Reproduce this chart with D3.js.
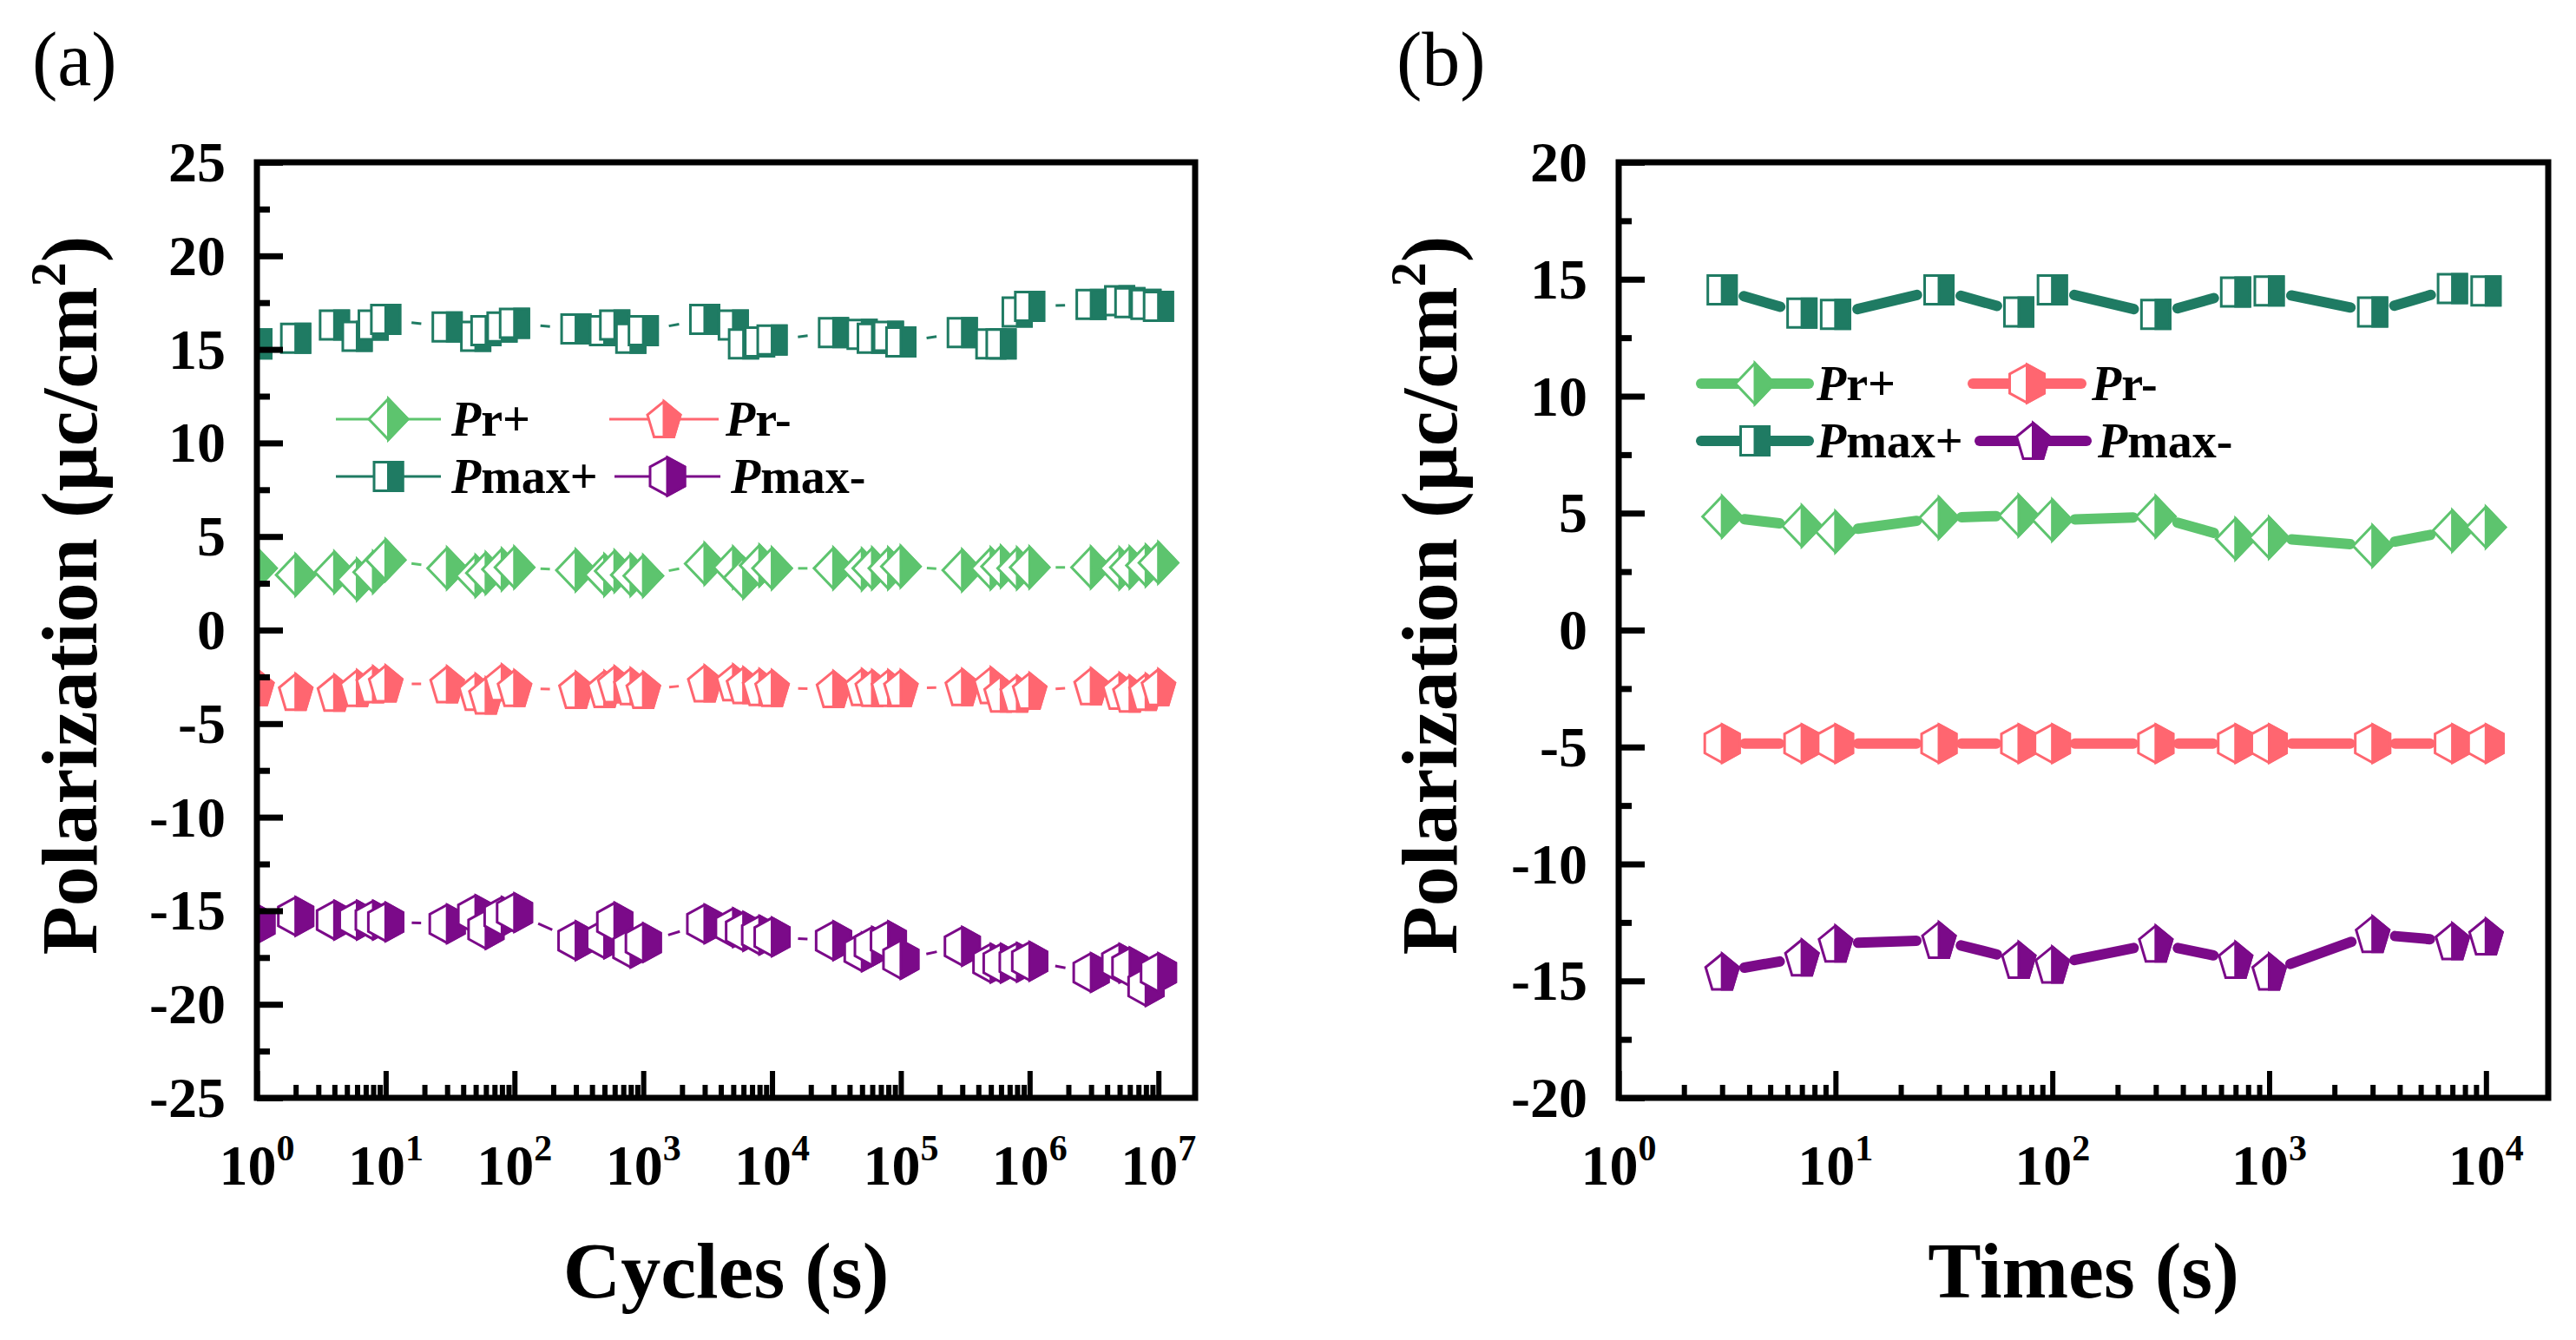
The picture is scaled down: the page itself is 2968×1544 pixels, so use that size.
<!DOCTYPE html>
<html><head><meta charset="utf-8">
<script src="https://cdn.jsdelivr.net/npm/d3@7"></script>
<style>html,body{margin:0;padding:0;background:#fff}svg{display:block}</style>
</head><body>
<svg id="c" width="2968" height="1544"></svg>
<script>
// ---------- DATA ----------
const cyclesX = [1,2,4,6,8,10, 30,50,60,80,100, 300,500,600,800,1e3, 3e3,5e3,6e3,8e3,1e4, 3e4,5e4,6e4,8e4,1e5, 3e5,5e5,6e5,8e5,1e6, 3e6,5e6,6e6,8e6,1e7];
const cyclesPrPlus = [3.3,2.95,3.1,2.7,3.1,3.75, 3.3,2.9,3.05,3.25,3.35, 3.2,2.95,3.15,2.95,2.9, 3.55,3.35,2.8,3.45,3.3, 3.3,3.25,3.3,3.3,3.4, 3.2,3.3,3.4,3.3,3.35, 3.35,3.3,3.35,3.45,3.6];
const cyclesPrMinus = [-3.05,-3.3,-3.35,-3.1,-2.9,-2.85, -2.9,-3.3,-3.5,-2.8,-3.1, -3.2,-3.15,-2.9,-3.0,-3.2, -2.85,-2.8,-2.95,-3.05,-3.1, -3.15,-3.05,-3.1,-3.1,-3.1, -3.05,-2.95,-3.4,-3.4,-3.25, -3.0,-3.25,-3.4,-3.3,-3.05];
const cyclesPmaxPlus = [15.3,15.6,16.3,15.7,16.3,16.6, 16.2,15.7,16.0,16.2,16.4, 16.1,16.0,16.3,15.6,16.0, 16.6,16.3,15.3,15.4,15.5, 15.9,15.8,15.6,15.7,15.4, 15.9,15.3,15.3,17.0,17.3, 17.4,17.6,17.5,17.4,17.3];
const cyclesPmaxMinus = [-15.7,-15.3,-15.5,-15.5,-15.5,-15.6, -15.7,-15.2,-16.0,-15.3,-15.1, -16.6,-16.5,-15.6,-17.0,-16.7, -15.7,-15.9,-16.1,-16.3,-16.4, -16.6,-17.2,-16.9,-16.6,-17.6, -16.9,-17.8,-17.8,-17.75,-17.7, -18.3,-17.8,-18.0,-19.05,-18.3];

const timesX = [3,7,10,30,70,100,300,700,1000,3000,7000,10000];
const timesPrPlus = [4.85,4.45,4.2,4.8,4.9,4.7,4.85,3.9,3.95,3.6,4.25,4.4];
const timesPrMinus = [-4.85,-4.85,-4.85,-4.85,-4.85,-4.85,-4.85,-4.85,-4.85,-4.85,-4.85,-4.85];
const timesPmaxPlus = [14.55,13.55,13.5,14.55,13.6,14.55,13.5,14.45,14.5,13.6,14.6,14.5];
const timesPmaxMinus = [-14.6,-14.0,-13.4,-13.25,-14.1,-14.3,-13.4,-14.1,-14.6,-13.0,-13.3,-13.1];

const cyclesTickExps = [0,1,2,3,4,5,6,7];
const timesTickExps = [0,1,2,3,4];
const cyclesYTicks = [-25,-20,-15,-10,-5,0,5,10,15,20,25];
const timesYTicks = [-20,-15,-10,-5,0,5,10,15,20];
const seriesNames = ["Pr+","Pr-","Pmax+","Pmax-"];
const panelLabels = ["(a)","(b)"];
const xTitles = ["Cycles (s)","Times (s)"];
const yTitle = "Polarization (μc/cm";

// ---------- STYLE ----------
const FONT = "'Liberation Serif','Times New Roman',serif";
const COL = ["#5dc46e","#ff6670","#1f7b63","#7b0a89"];
const svg = d3.select("#c");

function shapePts(shape){
  if(shape==="diamond"){const w=45,h=47;return{full:[[0,-h/2],[w/2,0],[0,h/2],[-w/2,0]],half:[[0,-h/2],[w/2,0],[0,h/2]]};}
  if(shape==="square"){const w=33,h=33;return{full:[[-w/2,-h/2],[w/2,-h/2],[w/2,h/2],[-w/2,h/2]],half:[[0,-h/2],[w/2,-h/2],[w/2,h/2],[0,h/2]]};}
  if(shape==="pentagon"){const w=38,h=41,sy=-h/2+0.38*h,bx=0.3*w;return{full:[[0,-h/2],[w/2,sy],[bx,h/2],[-bx,h/2],[-w/2,sy]],half:[[0,-h/2],[w/2,sy],[bx,h/2],[0,h/2]]};}
  const w=40,h=44;return{full:[[0,-h/2],[w/2,-h/4],[w/2,h/4],[0,h/2],[-w/2,h/4],[-w/2,-h/4]],half:[[0,-h/2],[w/2,-h/4],[w/2,h/4],[0,h/2]]};
}
function drawMarker(g,shape,cx,cy,color){
  const p=shapePts(shape);
  const s=pts=>pts.map(d=>(cx+d[0])+","+(cy+d[1])).join(" ");
  g.append("polygon").attr("points",s(p.full)).attr("fill","#fff").attr("stroke",color).attr("stroke-width",3);
  g.append("polygon").attr("points",s(p.half)).attr("fill",color).attr("stroke",color).attr("stroke-width",3);
}

function panel(cfg){
  const {x,y,xs,series,shapes,tickExps,yTicks,id,lineW,cap,gap,legend,xTitle,yTitleX,label,labelX,legendW} = cfg;
  const [x0,x1]=x.range(), [yb,yt]=y.range();
  const g = svg.append("g");
  svg.append("clipPath").attr("id","clip"+id).append("rect")
    .attr("x",x0).attr("y",yt).attr("width",x1-x0).attr("height",yb-yt);

  // data
  const dg = g.append("g").attr("clip-path",`url(#clip${id})`);
  series.forEach((vals,si)=>{
    const pts = xs.map((xv,i)=>[x(xv), y(vals[i])]);
    d3.pairs(pts).forEach(([p,q])=>{
      const dx=q[0]-p[0], dy=q[1]-p[1], d=Math.hypot(dx,dy);
      if(d>2*gap){
        const ux=dx/d, uy=dy/d;
        dg.append("line").attr("x1",p[0]+ux*gap).attr("y1",p[1]+uy*gap)
          .attr("x2",q[0]-ux*gap).attr("y2",q[1]-uy*gap)
          .attr("stroke",COL[si]).attr("stroke-width",lineW).attr("stroke-linecap",cap);
      }
    });
    pts.forEach(p=>drawMarker(dg,shapes[si],p[0],p[1],COL[si]));
  });

  // ticks
  const yMinor=[]; yTicks.forEach(v=>{const m=v-2.5; if(m>y.domain()[0]) yMinor.push(m);});
  const ax=(a,vals,size)=>a.tickValues(vals).tickSize(size).tickFormat("");
  g.append("g").attr("transform",`translate(${x0},0)`).call(ax(d3.axisLeft(y),yTicks,-30))
    .call(s=>{s.select(".domain").remove();s.selectAll("line").attr("stroke","#000").attr("stroke-width",7);});
  g.append("g").attr("transform",`translate(${x0},0)`).call(ax(d3.axisLeft(y),yMinor,-15))
    .call(s=>{s.select(".domain").remove();s.selectAll("line").attr("stroke","#000").attr("stroke-width",7);});
  const xMajor = tickExps.map(k=>Math.pow(10,k));
  const xMinor=[]; tickExps.forEach(k=>{for(let m=2;m<=9;m++){const v=m*Math.pow(10,k); if(v<x.domain()[1]) xMinor.push(v);}});
  g.append("g").attr("transform",`translate(0,${yb})`).call(ax(d3.axisBottom(x),xMajor,-31))
    .call(s=>{s.select(".domain").remove();s.selectAll("line").attr("stroke","#000").attr("stroke-width",6);});
  g.append("g").attr("transform",`translate(0,${yb})`).call(ax(d3.axisBottom(x),xMinor,-15))
    .call(s=>{s.select(".domain").remove();s.selectAll("line").attr("stroke","#000").attr("stroke-width",6);});

  // box
  g.append("rect").attr("x",x0).attr("y",yt).attr("width",x1-x0).attr("height",yb-yt)
    .attr("fill","none").attr("stroke","#000").attr("stroke-width",7);

  // tick labels
  yTicks.forEach(v=>{
    g.append("text").attr("x",x0-36).attr("y",y(v)+22).attr("text-anchor","end")
      .attr("font-family",FONT).attr("font-weight","bold").attr("font-size",66).text(v);
  });
  tickExps.forEach(k=>{
    const t=g.append("text").attr("x",x(Math.pow(10,k))).attr("y",1365).attr("text-anchor","middle")
      .attr("font-family",FONT).attr("font-weight","bold").attr("font-size",66);
    t.append("tspan").text("10");
    t.append("tspan").attr("font-size",42).attr("dy",-28).text(k);
  });

  // axis titles
  g.append("text").attr("x",(x0+x1)/2).attr("y",1495).attr("text-anchor","middle")
    .attr("font-family",FONT).attr("font-weight","bold").attr("font-size",92).text(xTitle);
  const yt2=g.append("text").attr("transform",`translate(${yTitleX},686) rotate(-90)`).attr("text-anchor","middle")
    .attr("font-family",FONT).attr("font-weight","bold").attr("font-size",92);
  yt2.append("tspan").text(yTitle);
  yt2.append("tspan").attr("font-size",56).attr("dy",-36).text("2");
  yt2.append("tspan").attr("dy",36).text(")");

  // panel label
  svg.append("text").attr("x",labelX).attr("y",98).attr("font-family",FONT).attr("font-size",88).text(label);

  // legend
  legend.forEach((L,si)=>{
    g.append("line").attr("x1",L.x1).attr("x2",L.x2).attr("y1",L.y).attr("y2",L.y)
      .attr("stroke",COL[si]).attr("stroke-width",legendW).attr("stroke-linecap",cap);
    drawMarker(g,shapes[si],(L.x1+L.x2)/2,L.y,COL[si]);
    const t=g.append("text").attr("x",L.tx).attr("y",L.y+19).attr("font-family",FONT)
      .attr("font-weight","bold").attr("font-size",56);
    t.append("tspan").attr("font-style","italic").text(seriesNames[si].slice(0,1));
    t.append("tspan").text(seriesNames[si].slice(1));
  });
}

// Panel (a)
panel({
  id:"a",
  x:d3.scaleLog().domain([1,Math.pow(10,7.285)]).range([296,1377]),
  y:d3.scaleLinear().domain([-25,25]).range([1265,187]),
  xs:cyclesX,
  series:[cyclesPrPlus,cyclesPrMinus,cyclesPmaxPlus,cyclesPmaxMinus],
  shapes:["diamond","pentagon","square","hexagon"],
  tickExps:cyclesTickExps, yTicks:cyclesYTicks,
  lineW:3, cap:"butt", gap:30, legendW:3,
  legend:[{x1:387,x2:508,y:483,tx:520},{x1:702,x2:828,y:483,tx:836},
          {x1:387,x2:508,y:549,tx:520},{x1:708,x2:830,y:549,tx:842}],
  xTitle:xTitles[0], yTitleX:111, label:panelLabels[0], labelX:37
});

// Panel (b)
panel({
  id:"b",
  x:d3.scaleLog().domain([1,Math.pow(10,4.287)]).range([1865,2936]),
  y:d3.scaleLinear().domain([-20,20]).range([1265,187]),
  xs:timesX,
  series:[timesPrPlus,timesPrMinus,timesPmaxPlus,timesPmaxMinus],
  shapes:["diamond","hexagon","square","pentagon"],
  tickExps:timesTickExps, yTicks:timesYTicks,
  lineW:12, cap:"round", gap:26, legendW:12,
  legend:[{x1:1960,x2:2084,y:442,tx:2093},{x1:2273,x2:2398,y:442,tx:2410},
          {x1:1960,x2:2084,y:508,tx:2093},{x1:2281,x2:2404,y:508,tx:2417}],
  xTitle:xTitles[1], yTitleX:1678, label:panelLabels[1], labelX:1609
});
</script>
</body></html>
